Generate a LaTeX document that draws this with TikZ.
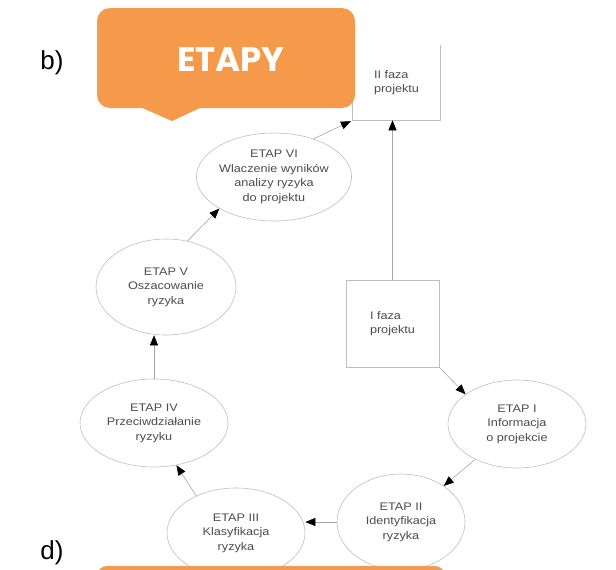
\documentclass[tikz,border=0pt]{standalone}
\usepackage{fontspec}
\setmainfont{Liberation Sans}
\newfontfamily\etapfont{Liberation Sans}[FakeStretch=1.15]
\newfontfamily\titlefont{Poppins}
\usetikzlibrary{shapes.geometric,arrows.meta}

\definecolor{etapyorange}{RGB}{245,153,74}
\definecolor{edgegray}{RGB}{190,190,190}
\definecolor{linegray}{RGB}{165,165,165}
\definecolor{labelgray}{RGB}{75,75,75}

\tikzset{
  etap/.style={ellipse, draw=edgegray, line width=0.6pt, inner sep=0pt, align=center,
    text=labelgray, font=\etapfont\fontsize{11}{14.5}\selectfont},
  faza/.style={rectangle, draw=edgegray, line width=0.6pt, inner sep=0pt, align=left,
    text=labelgray, font=\etapfont\fontsize{11}{14.5}\selectfont},
  flow/.style={draw=linegray, line width=0.6pt, -{Triangle[length=10pt,width=8pt,color=black]}},
  callout/.style={text=white, font=\titlefont\bfseries\fontsize{34}{34}\selectfont}
}

\begin{document}
\begin{tikzpicture}[x=1pt,y=-1pt]
  \useasboundingbox (0,0) rectangle (616,570);

  % Project phases
  \node[faza, draw=none, minimum width=87pt, minimum height=75pt] (faza2) at (396.5,82.5) {II faza\\projektu};
  \draw[edgegray, line width=0.6pt] (faza2.north west) -- (faza2.south west) -- (faza2.south east) -- (faza2.north east);
  \node[faza, minimum width=93pt, minimum height=87pt] (faza1) at (392.5,323.5) {I faza\\projektu};

  % Stages of the risk analysis
  \node[etap, minimum width=138pt, minimum height=88pt] (e1) at (517,424) {ETAP I\\Informacja\\o projekcie};
  \node[etap, minimum width=128pt, minimum height=96pt] (e2) at (401,522) {ETAP II\\Identyfikacja\\ryzyka};
  \node[etap, minimum width=138pt, minimum height=90pt] (e3) at (236,533) {ETAP III\\Klasyfikacja\\ryzyka};
  \node[etap, minimum width=148pt, minimum height=88pt] (e4) at (154,423) {ETAP IV\\Przeciwdziałanie\\ryzyku};
  \node[etap, minimum width=140pt, minimum height=96pt] (e5) at (166,287) {ETAP V\\Oszacowanie\\ryzyka};
  \node[etap, minimum width=142pt, minimum height=88pt] (e6) at (274,177) {ETAP VI\\Wlaczenie wyników\\analizy ryzyka\\do projektu};

  % Flow
  \draw[flow] (faza1.north) -- (faza1.north |- faza2.south);
  \draw[flow] (faza1.south east) -- (e1.150);
  \draw[flow] (e1) -- (e2);
  \draw[flow] (e2.west) -- (e2.west -| e3.east);
  \draw[flow] (e3.137) -- (e4.298);
  \draw[flow] (e4.north) -- (e4.north |- e5.south);
  \draw[flow] (e5.65) -- (e6.210);
  \draw[flow, shorten >=2pt] (e6.44) -- (faza2.south west);

  % Headings
  \node[font=\fontsize{26}{26}\selectfont] (b) at (52,63) {b)};
  \node[font=\fontsize{26}{26}\selectfont] (d) at (52,553) {d)};
  \fill[etapyorange, rounded corners=13pt] (97,8) rectangle (355,108);
  \fill[etapyorange] (140,107) -- (172,121) -- (202,107) -- cycle;
  \node[callout] (etapy) at (231,60) {ETAPY};
  \fill[etapyorange, rounded corners=10pt] (97,566) rectangle (445,585);
\end{tikzpicture}
\end{document}
